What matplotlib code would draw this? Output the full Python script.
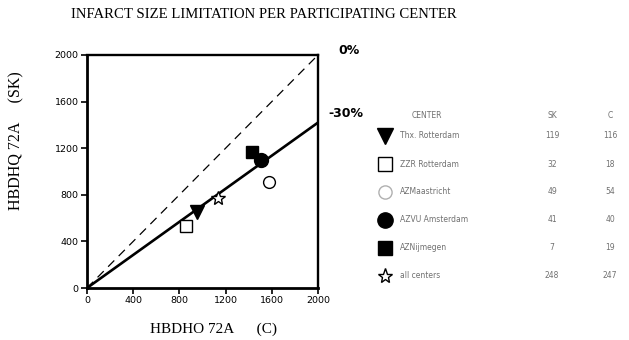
import matplotlib
matplotlib.use("Agg")
import matplotlib.pyplot as plt

# ---- data ----
ticks = [0, 400, 800, 1200, 1600, 2000]
centers = ["Thx. Rotterdam", "ZZR Rotterdam", "AZMaastricht", "AZVU Amsterdam", "AZNijmegen", "all centers"]
sk_n = [119, 32, 49, 41, 7, 248]
c_n = [116, 18, 54, 40, 19, 247]
x_c = [950, 856, 1576, 1504, 1432, 1130]
y_sk = [650, 529, 907, 1102, 1165, 773]
identity_line = [0, 2000]
reduction_line_y = [0, 1420]

markers = ["v", "s", "o", "o", "s", "*"]
filled = [True, False, False, True, True, False]
sizes = [10, 9, 8.5, 10, 9, 10]

fig = plt.figure(figsize=(6.29, 3.40), dpi=100)
ax = fig.add_axes([87/629, 1-288/340, 231/629, 233/340])

ax.plot(identity_line, identity_line, color="black", lw=0.9, ls=(0, (7, 5)))
ax.plot(identity_line, reduction_line_y, color="black", lw=1.9)

for i in range(len(x_c)):
    fc = "black" if filled[i] else "white"
    ax.plot(x_c[i], y_sk[i], marker=markers[i], ms=sizes[i], mfc=fc, mec="black",
            mew=1.0, ls="none", zorder=5)

ax.set_xlim(0, 2000)
ax.set_ylim(0, 2000)
ax.set_xticks(ticks)
ax.set_yticks(ticks)
ax.tick_params(direction="out", length=4, width=1.2, labelsize=6.8, pad=2)
for lab in ax.get_xticklabels() + ax.get_yticklabels():
    lab.set_family("DejaVu Sans")
for s in ["left", "bottom"]:
    ax.spines[s].set_linewidth(2.0)
for s in ["top", "right"]:
    ax.spines[s].set_linewidth(1.7)

ax.set_xlabel("HBDHO 72A      (C)", family="Liberation Serif", fontsize=11)
ax.xaxis.set_label_coords((214 - 87) / 231, (288 - 323) / 233)
ax.set_ylabel("HBDHQ 72A     (SK)", family="Liberation Serif", fontsize=11.5)
ax.yaxis.set_label_coords((24 - 87) / 231, (288 - 141) / 233)

fig.text(264/629, 1-15/340, "INFARCT SIZE LIMITATION PER PARTICIPATING CENTER",
         ha="center", va="center", family="Liberation Serif", fontsize=10.6)

fig.text(338/629, 1-50/340, "0%", ha="left", va="center", family="DejaVu Sans",
         fontsize=9, weight="bold")
fig.text(328/629, 1-114/340, "-30%", ha="left", va="center", family="DejaVu Sans",
         fontsize=9, weight="bold")

# ---- legend table ----
gray = "#707070"
header_y = 115
row_y0 = 136
row_dy = 28
mx = 385
tx = 400
skx = 552
cx = 610
fs = 5.5
fig.text(412/629, 1-header_y/340, "CENTER", fontsize=fs, color=gray, ha="left", va="center")
fig.text(skx/629, 1-header_y/340, "SK", fontsize=fs, color=gray, ha="center", va="center")
fig.text(cx/629, 1-header_y/340, "C", fontsize=fs, color=gray, ha="center", va="center")
for i, name in enumerate(centers):
    yy = 1-(row_y0 + i*row_dy)/340
    fc = "black" if filled[i] else "white"
    mec = "black" if i != 2 else "#b0b0b0"
    fig.lines.append(plt.Line2D([mx/629], [yy], marker=markers[i], ms=sizes[i]+1, mfc=fc,
                                mec=mec, ls="none", transform=fig.transFigure))
    fig.text(tx/629, yy, name, fontsize=fs, color=gray, ha="left", va="center")
    fig.text(skx/629, yy, str(sk_n[i]), fontsize=fs, color=gray, ha="center", va="center")
    fig.text(cx/629, yy, str(c_n[i]), fontsize=fs, color=gray, ha="center", va="center")

fig.savefig("out.png", dpi=100)
